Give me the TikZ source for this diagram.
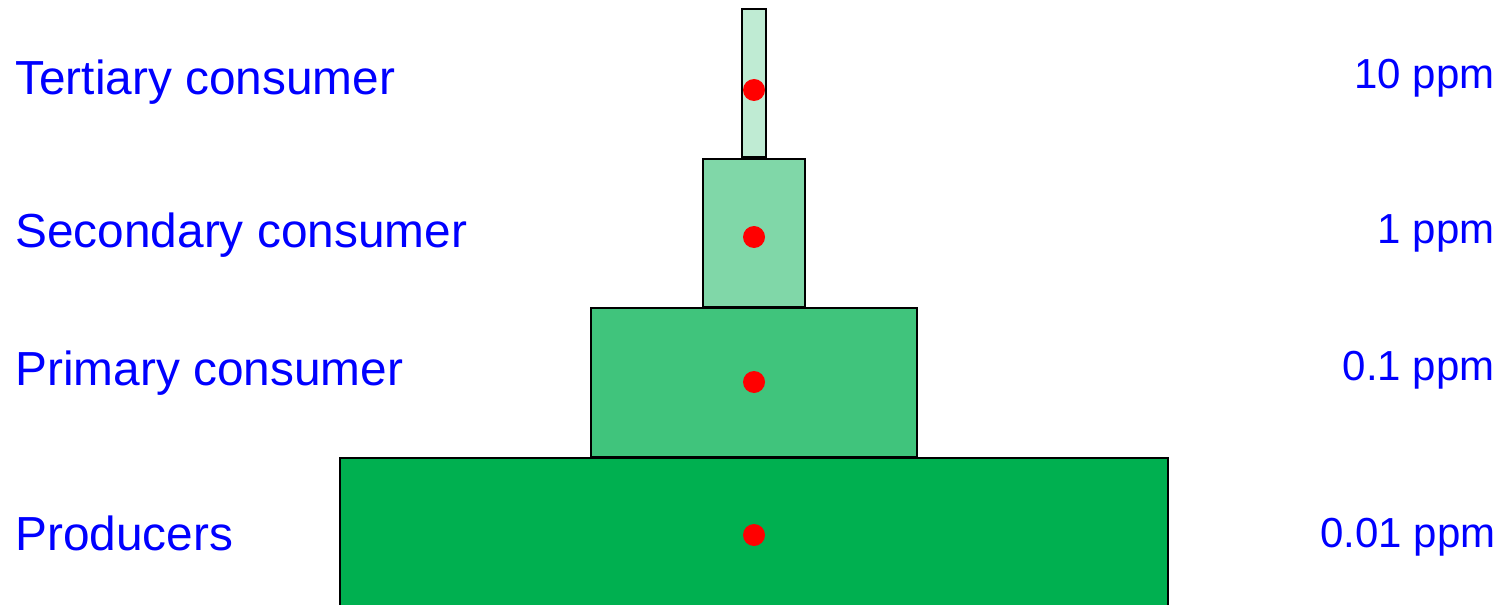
\documentclass[tikz,border=0pt]{standalone}
\usepackage{fontspec}
\setmainfont{Liberation Sans}
\definecolor{levelGreen}{HTML}{00B050}
\definecolor{labelBlue}{HTML}{0000FF}
\definecolor{dotRed}{HTML}{FF0000}

\begin{document}
\begin{tikzpicture}[
    x=0.5pt, y=-0.5pt,
    level/.style={draw=black, line width=1.1pt},
    trophic/.style={font=\fontsize{23.9}{28}\selectfont, text=labelBlue,
                    anchor=base west, inner sep=0pt},
    conc/.style={font=\fontsize{21}{25}\selectfont, text=labelBlue,
                 anchor=base east, inner sep=0pt},
    dot/.style={fill=dotRed},
    ]

% ====================================================================
% Frame (pixel grid of the reference, y pointing down)
% ====================================================================
\useasboundingbox (0,0) rectangle (1507,604);

% ====================================================================
% Pyramid levels — tint of the same green, lighter towards the top
% ====================================================================
\filldraw[level, fill=levelGreen] (340,458) rectangle (1168,612);
\filldraw[level, fill=levelGreen!75] (591,308) rectangle (917,457);
\filldraw[level, fill=levelGreen!50] (703,159) rectangle (805,307);
\filldraw[level, fill=levelGreen!25] (742,9) rectangle (766,157);

% Residue markers
\fill[dot] (754,535) circle [radius=5.5pt];
\fill[dot] (754,382) circle [radius=5.5pt];
\fill[dot] (754,237) circle [radius=5.5pt];
\fill[dot] (754,90) circle [radius=5.5pt];

% ====================================================================
% Level names (left) and concentrations (right)
% ====================================================================
\node[trophic] (tertiary) at (15,95) {Tertiary consumer};
\node[trophic] (secondary) at (15,247) {Secondary consumer};
\node[trophic] (primary) at (15,385) {Primary consumer};
\node[trophic] (producers) at (15,550) {Producers};

\node[conc] (tertiaryPpm) at (1495,89) {10 ppm};
\node[conc] (secondaryPpm) at (1495,243) {1 ppm};
\node[conc] (primaryPpm) at (1495,380) {0.1 ppm};
\node[conc] (producersPpm) at (1496,547) {0.01 ppm};

\end{tikzpicture}
\end{document}
